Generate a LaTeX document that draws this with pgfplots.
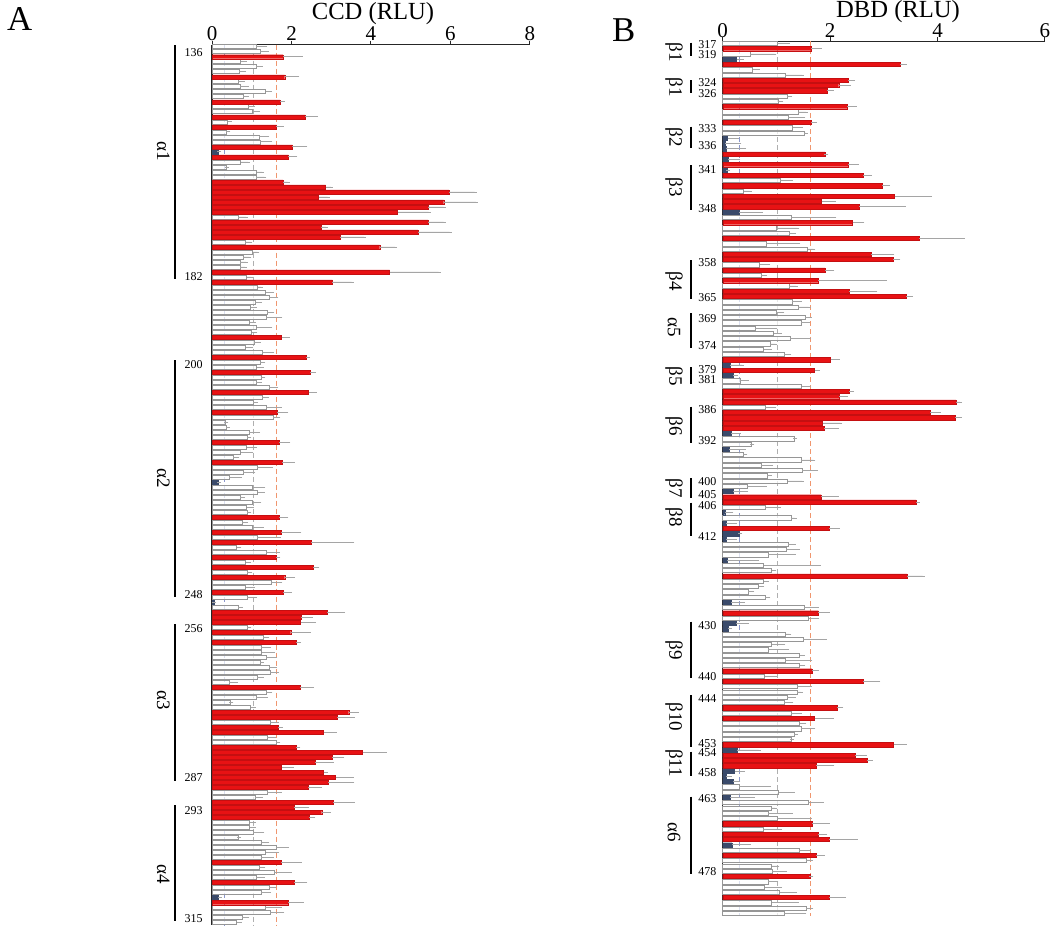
\documentclass[border=0pt]{standalone}
\usepackage{pgfplots}
\pgfplotsset{compat=1.18}
\usepackage{pgfplotstable}
\usepackage{fontspec}
\setmainfont{Liberation Serif}

\definecolor{barred}{RGB}{232,18,20}
\definecolor{barblue}{RGB}{58,74,106}
\definecolor{bargray}{RGB}{150,150,150}
\definecolor{errgray}{RGB}{165,165,165}
\definecolor{gridblue}{RGB}{140,152,205}
\definecolor{gridgray}{RGB}{175,175,175}
\definecolor{gridorange}{RGB}{240,150,110}

% ---------- Panel A (CCD) : i = bar position, v = RLU, e = error ----------
\pgfplotstableread{
i v e
1 1.11 0.23
2 1.21 0.17
4 0.72 0.11
5 1.11 0.12
6 0.69 0.12
8 0.66 0.11
9 0.70 0.18
10 1.35 0.11
11 0.79 0.08
13 0.91 0.11
14 1.02 0.14
16 0.39 0.06
18 0.37 0.04
19 1.19 0.20
20 1.22 0.25
24 0.72 0.18
25 0.35 0.03
26 1.12 0.14
27 1.11 0.21
35 0.66 0.19
40 0.83 0.13
42 1.02 0.12
43 0.79 0.15
44 0.70 0.15
45 0.70 0.13
47 0.87 0.10
49 1.15 0.08
50 1.35 0.15
51 1.43 0.19
52 1.09 0.12
53 0.97 0.11
54 1.39 0.13
55 1.37 0.35
56 0.95 0.11
57 1.12 0.35
58 1.00 0.09
60 1.06 0.11
61 0.85 0.12
62 1.27 0.23
64 1.21 0.08
65 1.12 0.13
67 1.25 0.04
68 1.11 0.10
69 1.43 0.19
71 1.26 0.12
72 1.04 0.07
73 1.36 0.34
75 1.54 0.13
76 0.34 0.02
77 0.37 0.03
78 0.93 0.23
79 0.90 0.04
81 0.87 0.20
82 0.72 0.25
83 0.54 0.10
85 1.14 0.34
86 0.79 0.25
87 0.43 0.28
89 1.02 0.27
90 1.15 0.13
91 0.70 0.08
92 1.02 0.17
93 0.87 0.13
94 0.89 0.05
96 0.75 0.11
97 1.02 0.23
99 1.14 0.55
101 0.62 0.07
102 1.37 0.28
104 0.85 0.08
106 0.89 0.07
108 1.48 0.24
109 0.85 0.17
111 0.89 0.19
113 0.66 0.06
117 0.89 0.05
119 1.29 0.10
121 1.23 0.21
122 1.25 0.28
123 1.36 0.23
124 1.21 0.04
125 1.43 0.15
126 1.46 0.17
127 1.14 0.11
128 0.44 0.16
130 1.37 0.10
131 1.11 0.25
132 0.45 0.04
133 0.97 0.08
136 1.46 0.17
139 1.39 0.17
140 1.61 0.06
150 1.39 0.32
151 1.08 0.15
156 0.95 0.11
157 0.95 0.10
158 1.04 0.23
159 0.66 0.02
160 1.23 0.16
161 1.61 0.28
162 1.35 0.28
163 1.23 0.27
165 1.19 0.10
166 1.57 0.38
167 1.11 0.17
169 1.43 0.13
170 1.23 0.21
173 1.33 0.38
174 1.46 0.31
175 0.75 0.14
176 0.62 0.08
}\Awhite

\pgfplotstableread{
i v e
3 1.78 0.45
7 1.83 0.32
12 1.71 0.08
15 2.34 0.28
17 1.62 0.14
21 2.02 0.33
23 1.92 0.18
28 1.78 0.12
29 2.86 0.13
30 5.96 0.65
31 2.68 0.23
32 5.83 0.81
33 5.44 0.39
34 4.67 0.78
36 5.44 0.39
37 2.75 0.11
38 5.18 0.80
39 3.23 0.59
41 4.22 0.39
46 4.47 1.23
48 3.03 0.48
59 1.75 0.15
63 2.36 0.06
66 2.46 0.11
70 2.43 0.16
74 1.64 0.23
80 1.68 0.24
84 1.76 0.27
95 1.69 0.18
98 1.73 0.47
100 2.50 1.03
103 1.61 0.06
105 2.55 0.10
107 1.83 0.21
110 1.78 0.18
114 2.90 0.40
115 2.25 0.23
116 2.23 0.34
118 1.98 0.46
120 2.11 0.08
129 2.21 0.31
134 3.44 0.21
135 3.15 0.39
137 1.67 0.06
138 2.81 0.28
141 2.11 0.06
142 3.79 0.56
143 3.02 0.26
144 2.59 0.42
145 1.75 0.25
146 2.81 0.05
147 3.11 0.40
148 2.92 0.61
149 2.42 0.29
152 3.05 0.49
153 2.07 0.33
154 2.76 0.18
155 2.45 0.10
164 1.73 0.48
168 2.06 0.29
172 1.92 0.34
}\Ared

\pgfplotstableread{
i v e
22 0.16 0.02
88 0.16 0.02
112 0.05 0.01
171 0.16 0.03
}\Ablue

% ---------- Panel B (DBD) ----------
\pgfplotstableread{
i v e
1 1.01 0.20
3 0.51 0.45
6 0.56 0.09
7 1.16 0.32
11 1.20 0.06
12 1.03 0.06
14 1.41 0.14
15 1.22 0.28
17 1.30 0.15
18 1.52 0.03
27 1.07 0.20
29 0.39 0.11
34 1.28 0.80
36 0.99 0.40
37 1.24 0.09
39 0.81 0.60
40 1.58 0.11
43 0.69 0.16
45 0.72 0.07
47 1.24 0.12
50 1.29 0.15
51 1.41 0.19
52 0.99 0.12
53 1.53 0.09
54 1.46 0.13
55 0.60 0.38
56 0.95 0.11
57 1.25 0.36
58 0.88 0.10
59 0.76 0.12
60 1.14 0.10
65 0.33 0.12
66 1.47 0.13
70 0.79 0.16
76 1.33 0.02
77 0.53 0.02
79 0.39 0.03
80 1.46 0.23
81 0.71 0.19
82 1.48 0.26
83 0.83 0.05
84 1.21 0.27
85 0.45 0.33
89 0.79 0.25
91 1.27 0.07
96 1.22 0.10
97 1.18 0.22
98 0.85 0.47
100 0.76 1.03
101 0.91 0.04
103 0.76 0.06
104 0.67 0.07
105 0.48 0.07
106 0.79 0.06
108 1.51 0.24
110 1.60 0.16
113 1.17 0.07
114 1.50 0.40
115 0.91 0.22
116 0.85 0.35
117 1.43 0.06
118 1.16 0.47
119 1.43 0.07
121 0.78 0.20
123 1.39 0.23
124 1.39 0.06
125 1.20 0.12
126 1.14 0.14
128 1.27 0.16
130 1.43 0.09
131 1.46 0.23
132 1.34 0.02
133 1.27 0.02
142 0.31 0.55
143 1.04 0.26
145 1.59 0.25
146 0.90 0.07
147 0.84 0.43
148 1.01 0.61
150 0.75 0.32
154 1.42 0.19
156 1.55 0.09
157 0.91 0.11
158 0.92 0.24
160 0.84 0.16
161 0.78 0.29
162 1.06 0.29
164 0.91 0.47
165 1.55 0.10
166 1.14 0.38
}\Bwhite

\pgfplotstableread{
i v e
2 1.65 0.16
5 3.30 0.09
8 2.34 0.09
9 2.16 0.19
10 1.94 0.09
13 2.32 0.14
16 1.65 0.06
22 1.90 0.03
24 2.33 0.17
26 2.62 0.12
28 2.97 0.11
30 3.20 0.66
31 1.84 0.23
32 2.54 0.83
35 2.42 0.18
38 3.66 0.81
41 2.77 0.39
42 3.17 0.10
44 1.90 0.14
46 1.78 1.24
48 2.35 0.49
49 3.42 0.09
61 2.01 0.13
63 1.71 0.06
67 2.35 0.06
68 2.17 0.12
69 4.34 0.08
71 3.86 0.17
72 4.32 0.09
73 1.86 0.33
74 1.89 0.24
87 1.83 0.29
88 3.60 0.03
93 1.98 0.16
102 3.43 0.29
109 1.78 0.18
120 1.66 0.10
122 2.62 0.28
127 2.13 0.08
129 1.71 0.32
134 3.18 0.21
136 2.46 0.18
137 2.69 0.07
138 1.74 0.30
149 1.66 0.30
151 1.77 0.14
152 1.98 0.50
155 1.74 0.12
159 1.63 0.02
163 1.98 0.28
}\Bred

\pgfplotstableread{
i v e
4 0.26 0.09
19 0.09 0.17
20 0.05 0.26
21 0.07 0.33
23 0.10 0.19
25 0.08 0.02
33 0.31 0.40
62 0.14 0.22
64 0.19 0.06
75 0.16 0.14
78 0.12 0.27
86 0.19 0.25
90 0.04 0.12
92 0.06 0.17
94 0.31 0.02
95 0.06 0.17
99 0.08 0.55
107 0.16 0.22
111 0.25 0.20
112 0.11 0.02
135 0.27 0.40
139 0.22 0.16
140 0.07 0.06
141 0.20 0.09
144 0.14 0.42
153 0.17 0.32
}\Bblue

\pgfplotsset{
  panel/.style={
    scale only axis, anchor=north west,
    y dir=reverse,
    axis x line*=top, axis y line*=left,
    ytick=\empty, xmin=0,
    tick align=outside, major tick length=2pt,
    axis line style={line width=0.6pt, black!85},
    major tick style={line width=0.5pt, black!85},
    xticklabel style={font=\fontsize{10.5}{12}\selectfont, inner sep=1pt, yshift=-1.3pt},
    /pgf/number format/assume math mode=true,
    bar width=0.8, bar shift=0pt,
    clip=false,
  },
  ebar/.style={
    error bars/x dir=plus, error bars/x explicit,
    error bars/error bar style={errgray, line width=0.35pt, solid},
    error bars/error mark options={errgray, mark size=1pt, line width=0.35pt},
  },
  wbar/.style={xbar, fill=white, fill opacity=0.7, draw=bargray, line width=0.3pt, ebar},
  rbar/.style={xbar, fill=barred, draw=barred!85!black, line width=0.2pt, ebar},
  bbar/.style={xbar, fill=barblue, draw=barblue, line width=0.2pt, ebar},
  gl/.style={line width=0.4pt, dash pattern=on 2.5pt off 1.5pt},
}

\begin{document}
\begin{tikzpicture}
\useasboundingbox (0,0) rectangle (525pt,-464pt);

% ---------------- Panel A ----------------
\begin{axis}[panel, at={(106pt,-22.35pt)}, width=159pt, height=440.15pt,
  xmax=8, ymin=0.6, ymax=176.46, xtick={0,2,4,6,8}]
  \addplot[gl, gridblue] coordinates {(0.31,0.6) (0.31,176.46)};
  \addplot[gl, gridgray] coordinates {(1.04,0.6) (1.04,176.46)};
  \addplot[gl, gridorange] coordinates {(1.62,0.6) (1.62,176.46)};
  \addplot[wbar] table[x=v, y=i, x error=e] {\Awhite};
  \addplot[rbar] table[x=v, y=i, x error=e] {\Ared};
  \addplot[bbar] table[x=v, y=i, x error=e] {\Ablue};
\end{axis}

% ---------------- Panel B ----------------
\begin{axis}[panel, at={(361.35pt,-20.6pt)}, width=161.15pt, height=437.4pt,
  xmax=6, ymin=0.6, ymax=166.5, xtick={0,2,4,6}]
  \addplot[gl, gridblue] coordinates {(0.32,0.6) (0.32,166.5)};
  \addplot[gl, gridgray] coordinates {(1.02,0.6) (1.02,166.5)};
  \addplot[gl, gridorange] coordinates {(1.63,0.6) (1.63,166.5)};
  \addplot[wbar] table[x=v, y=i, x error=e] {\Bwhite};
  \addplot[rbar] table[x=v, y=i, x error=e] {\Bred};
  \addplot[bbar] table[x=v, y=i, x error=e] {\Bblue};
\end{axis}

% ---------------- annotations (pixel coordinates) ----------------
\begin{scope}[x=0.5pt, y=-0.5pt]
  \node[anchor=base west, inner sep=0pt, font=\fontsize{17.4}{20}\selectfont] at (6.7,30) {A};
  \node[anchor=base west, inner sep=0pt, font=\fontsize{17.4}{20}\selectfont] at (611.7,41.7) {B};
  \node[anchor=base, inner sep=0pt, font=\fontsize{12.3}{14}\selectfont] at (373,19) {CCD (RLU)};
  \node[anchor=base, inner sep=0pt, font=\fontsize{12.3}{14}\selectfont] at (898,17) {DBD (RLU)};

  % residue numbers, panel A
  \foreach \yy/\t in {53/136, 276.7/182, 365/200, 595/248, 629/256, 777.3/287, 811/293, 918.3/315}
    \node[anchor=east, inner sep=0pt, font=\fontsize{6}{7}\selectfont] at (203,\yy) {\t};
  % brackets, panel A
  \foreach \a/\b in {45/279, 360/597, 624/781, 805/920.7}
    \draw[line width=0.8pt] (175,\a) -- (175,\b);
  \foreach \yy/\t in {151/α1, 478/α2, 700/α3, 874/α4}
    \node[rotate=-90, inner sep=0pt, font=\fontsize{9.5}{11}\selectfont] at (163.3,\yy) {\t};

  % residue numbers, panel B
  \foreach \yy/\t in {44.3/317, 55/319, 82.3/324, 93.3/326, 129/333, 145.7/336, 169.3/341, 208.3/348,
                      262.3/358, 297.3/365, 318.3/369, 346/374, 370/379, 380/381, 410/386, 440.7/392,
                      481.7/400, 494.5/405, 505.5/406, 536.7/412, 625.7/430, 676.7/440, 698.3/444,
                      743.3/453, 752.3/454, 772.3/458, 798.3/463, 871.7/478}
    \node[anchor=east, inner sep=0pt, font=\fontsize{6}{7}\selectfont] at (716.7,\yy) {\t};
  % brackets, panel B
  \foreach \a/\b in {42.7/56, 80/93.3, 126.7/148.3, 165/210, 260/299.3, 313/348, 367/384, 406.7/442.7,
                     478/498.3, 502.7/536, 621.7/678.3, 695/746.7, 751.7/776, 796.7/874}
    \draw[line width=0.8pt] (690.7,\a) -- (690.7,\b);
  \foreach \yy/\t in {52/β1, 87/β1, 137/β2, 187/β3, 281/β4, 327/α5, 376/β5, 426/β6,
                      488/β7, 517/β8, 650/β9, 717/β10, 763/β11, 832/α6}
    \node[rotate=-90, inner sep=0pt, font=\fontsize{9.5}{11}\selectfont] at (674,\yy) {\t};
\end{scope}
\end{tikzpicture}
\end{document}
